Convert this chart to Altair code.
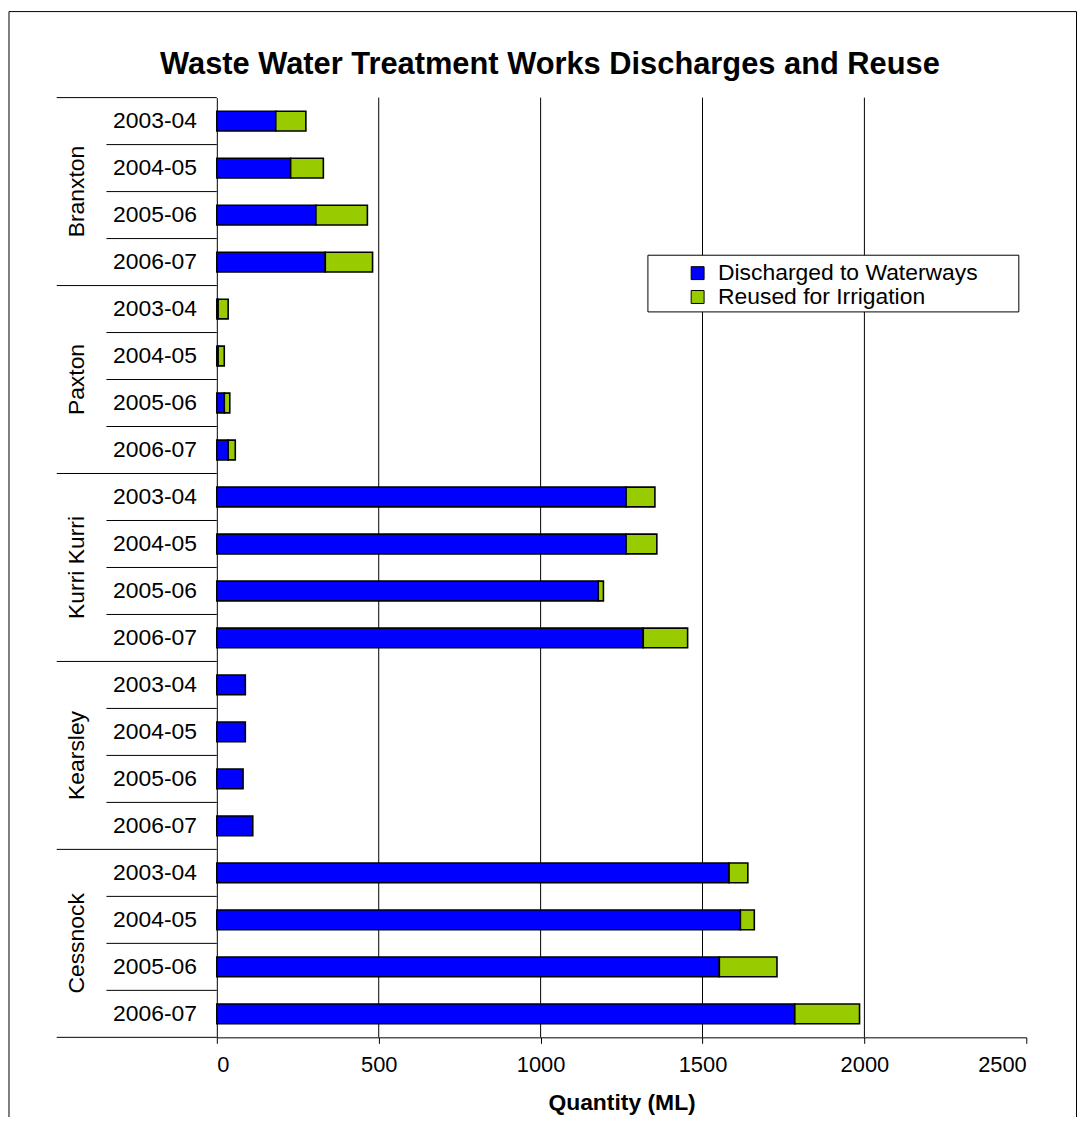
import altair as alt
import pandas as pd

groups = ["Branxton", "Paxton", "Kurri Kurri", "Kearsley", "Cessnock"]
years = ["2003-04", "2004-05", "2005-06", "2006-07"]
discharged = [182, 228, 306, 335,
              4, 4, 23, 35,
              1264, 1264, 1178, 1317,
              88, 88, 81, 111,
              1582, 1617, 1552, 1785]
reused = [93, 101, 159, 146,
          31, 19, 17, 22,
          89, 95, 16, 137,
          0, 0, 0, 0,
          58, 43, 178, 200]
series = ["Discharged to Waterways", "Reused for Irrigation"]
colors = ["#0000FF", "#99CC00"]
x_ticks = [0, 500, 1000, 1500, 2000, 2500]
grid_values = [500, 1000, 1500, 2000]

FONT = "Liberation Sans"
W, H = 814, 945

rows = []
labels = []
for gi, g in enumerate(groups):
    for yi, yr in enumerate(years):
        r = gi * 4 + yi
        d = discharged[r]
        u = reused[r]
        rows.append({"group": g, "year": yr, "row": r, "series": series[0],
                     "start": 0, "end": d, "value": d})
        if u > 0:
            rows.append({"group": g, "year": yr, "row": r, "series": series[1],
                         "start": d, "end": d + u, "value": u})
        labels.append({"year": yr, "row": r})
bars_df = pd.DataFrame(rows)
labels_df = pd.DataFrame(labels)
groups_df = pd.DataFrame({"group": groups, "row": [i * 4 for i in range(len(groups))]})
year_sep_df = pd.DataFrame({"b": [g * 4 + k for g in range(len(groups)) for k in (1, 2, 3)]})
group_sep_df = pd.DataFrame({"b": [g * 4 for g in range(len(groups) + 1)]})
grid_df = pd.DataFrame({"v": grid_values})

yscale = alt.Scale(domain=[0, 20], reverse=True, nice=False, zero=False)
xscale = alt.Scale(domain=[0, 2500], nice=False)

one = pd.DataFrame({"k": [0]})

border = alt.Chart(one).mark_rect(
    fill="white", fillOpacity=0, stroke="black", strokeWidth=1
).encode(x=alt.value(-209), x2=alt.value(864.5), y=alt.value(-86.5), y2=alt.value(1200))

legend_box = alt.Chart(one).mark_rect(
    fill="white", stroke="black", strokeWidth=1
).encode(x=alt.value(433.5), x2=alt.value(806.5), y=alt.value(158.5), y2=alt.value(215.5))

title = alt.Chart(pd.DataFrame({"t": ["Waste Water Treatment Works Discharges and Reuse"]})).mark_text(
    font=FONT, fontSize=31, fontWeight="bold", align="center", baseline="alphabetic", color="black"
).encode(x=alt.value(335), y=alt.value(-24), text="t:N")

grid = alt.Chart(grid_df).mark_rule(color="black", strokeWidth=1).encode(
    x=alt.X("v:Q", scale=xscale), y=alt.value(0), y2=alt.value(H)
)

bars = alt.Chart(bars_df).transform_calculate(
    y0="datum.row + 0.29", y1="datum.row + 0.71"
).mark_bar(stroke="black", strokeWidth=1.6).encode(
    x=alt.X("start:Q", scale=xscale,
            axis=alt.Axis(values=x_ticks, format="d", title="Quantity (ML)", grid=False,
                          domainColor="black", tickColor="black", tickSize=6,
                          labelFont=FONT, labelFontSize=22, labelColor="black", labelPadding=11,
                          titleFont=FONT, titleFontSize=23, titleFontWeight="bold",
                          titleColor="black", titlePadding=17)),
    x2="end:Q",
    y=alt.Y("y0:Q", scale=yscale,
            axis=alt.Axis(labels=False, ticks=False, grid=False, title=None, domainColor="black")),
    y2="y1:Q",
    color=alt.Color("series:N", scale=alt.Scale(domain=series, range=colors),
                    legend=alt.Legend(title=None, orient="none", legendX=472, legendY=165,
                                      direction="vertical", padding=0, symbolType="square",
                                      symbolSize=169, symbolStrokeColor="black",
                                      symbolStrokeWidth=1, symbolOpacity=1,
                                      labelFont=FONT, labelFontSize=23, labelColor="black",
                                      labelLimit=0, rowPadding=-4, labelOffset=9)),
    tooltip=["group:N", "year:N", "series:N", "value:Q"],
)

year_seps = alt.Chart(year_sep_df).mark_rule(color="black", strokeWidth=1).encode(
    x=alt.value(-111), x2=alt.value(0), y=alt.Y("b:Q", scale=yscale)
)
group_seps = alt.Chart(group_sep_df).mark_rule(color="black", strokeWidth=1).encode(
    x=alt.value(-161), x2=alt.value(0), y=alt.Y("b:Q", scale=yscale)
)

year_text = alt.Chart(labels_df).transform_calculate(yc="datum.row + 0.5").mark_text(
    font=FONT, fontSize=23, align="right", baseline="middle", color="black"
).encode(x=alt.value(-20), y=alt.Y("yc:Q", scale=yscale), text="year:N")

group_text = alt.Chart(groups_df).transform_calculate(yc="datum.row + 2").mark_text(
    font=FONT, fontSize=23, align="center", baseline="middle", angle=270, color="black"
).encode(x=alt.value(-141), y=alt.Y("yc:Q", scale=yscale), text="group:N")

chart = alt.layer(
    border, title, grid, legend_box, bars, year_seps, group_seps, year_text, group_text
).properties(
    width=W, height=H,
    autosize=alt.AutoSizeParams(type="none"),
    padding={"left": 210, "top": 87, "right": 51, "bottom": 77},
    background="white",
).configure_view(stroke=None)

chart.save("out.html", embed_options={"renderer": "svg", "actions": False})
